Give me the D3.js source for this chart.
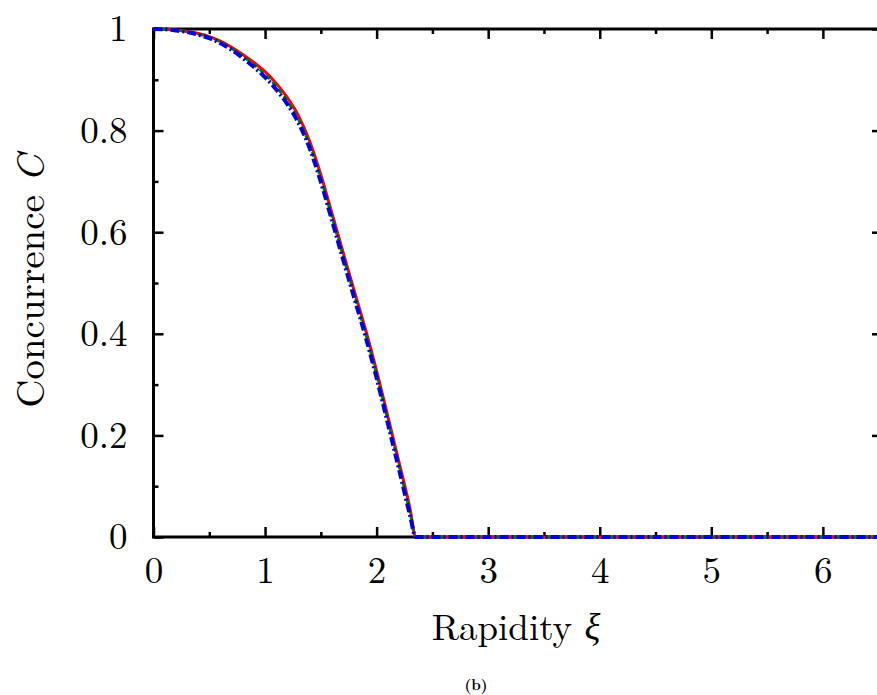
<!DOCTYPE html>
<html><head><meta charset="utf-8">
<script src="https://cdn.jsdelivr.net/npm/d3@7"></script>
<style>body{margin:0;background:#fff}svg{display:block}</style>
</head><body>
<svg id="c" width="877" height="695"></svg>
<script>
const xi = [0,0.1,0.2,0.3,0.4,0.5,0.6,0.7,0.8,0.9,1.0,1.1,1.2,1.3,1.4,1.5,1.6,1.7,1.8,1.9,2.0,2.1,2.2,2.3,2.35,6.53];
const cRed   = [1,.9995,.998,.995,.991,.985,.976,.964,.950,.934,.916,.893,.865,.829,.779,.713,.637,.560,.484,.409,.327,.238,.148,.055,0,0];
const cGreen = [1,.9995,.998,.995,.990,.984,.975,.962,.947,.930,.911,.887,.858,.822,.772,.706,.630,.553,.477,.402,.320,.231,.141,.048,0,0];
const cBlue  = [1,.9995,.997,.994,.989,.982,.972,.959,.943,.925,.905,.881,.852,.815,.765,.699,.623,.546,.470,.395,.313,.224,.134,.042,0,0];
const xTicks = [0,1,2,3,4,5,6];
const xMinor = [0.5,1.5,2.5,3.5,4.5,5.5,6.5];
const yTicks = [0,0.2,0.4,0.6,0.8,1];
const yMinor = [0.1,0.3,0.5,0.7,0.9];
const xTitle = "Rapidity ";
const yTitle = "Concurrence ";
const caption = "(b)";

const FF = '"Latin Modern Roman","CMU Serif","Liberation Serif",serif';
const svg = d3.select("#c");
const L=153.5, R=882, T=29, B=537;
const x = d3.scaleLinear().domain([0,6.53]).range([L,R]);
const y = d3.scaleLinear().domain([0,1]).range([B,T]);

function tickGroup(axis, tr){
  const g = svg.append("g").attr("transform",tr).call(axis);
  g.select(".domain").remove();
  g.selectAll(".tick line").attr("stroke","#000").attr("stroke-width",2.5);
  return g;
}
const gb = tickGroup(d3.axisBottom(x).tickValues(xTicks).tickSize(-10).tickPadding(20).tickFormat(d3.format("d")), `translate(0,${B})`);
gb.selectAll("text").style("font-family",FF).style("font-size","37px").attr("fill","#000");
tickGroup(d3.axisBottom(x).tickValues(xMinor).tickSize(-5).tickFormat(""), `translate(0,${B})`);
tickGroup(d3.axisTop(x).tickValues(xTicks).tickSize(-10).tickFormat(""), `translate(0,${T})`);
tickGroup(d3.axisTop(x).tickValues(xMinor).tickSize(-5).tickFormat(""), `translate(0,${T})`);
const gl = tickGroup(d3.axisLeft(y).tickValues(yTicks).tickSize(-10).tickPadding(26).tickFormat(d=>d===0?"0":d===1?"1":d3.format(".1f")(d)), `translate(${L},0)`);
gl.selectAll("text").style("font-family",FF).style("font-size","37px").attr("fill","#000");
tickGroup(d3.axisLeft(y).tickValues(yMinor).tickSize(-5).tickFormat(""), `translate(${L},0)`);
tickGroup(d3.axisRight(y).tickValues(yTicks).tickSize(-10).tickFormat(""), `translate(${R},0)`);
tickGroup(d3.axisRight(y).tickValues(yMinor).tickSize(-5).tickFormat(""), `translate(${R},0)`);

svg.append("rect").attr("x",L).attr("y",T).attr("width",R-L).attr("height",B-T)
  .attr("fill","none").attr("stroke","#000").attr("stroke-width",3);

const line = vals => d3.line().curve(d3.curveMonotoneX).x((d,i)=>x(xi[i])).y(d=>y(d))(vals);
svg.append("path").attr("d",line(cRed)).attr("fill","none").attr("stroke","#ff0000").attr("stroke-width",3);
svg.append("path").attr("d",line(cGreen)).attr("fill","none").attr("stroke","#007700").attr("stroke-width",3).attr("stroke-dasharray","5,4");
svg.append("path").attr("d",line(cBlue)).attr("fill","none").attr("stroke","#0000dd").attr("stroke-width",4).attr("stroke-dasharray","9,3,2,3");

const xt = svg.append("text").attr("x",516).attr("y",640).attr("text-anchor","middle")
  .style("font-family",FF).style("font-size","37px").attr("fill","#000");
xt.append("tspan").text(xTitle);
xt.append("tspan").style("font-style","italic").text("ξ");
const yt = svg.append("text").attr("transform","translate(44,281) rotate(-90)").attr("text-anchor","middle")
  .style("font-family",FF).style("font-size","39px").attr("fill","#000");
yt.append("tspan").text(yTitle);
yt.append("tspan").style("font-style","italic").text("C");
svg.append("text").attr("x",476).attr("y",690).attr("text-anchor","middle")
  .style("font-family",FF).style("font-size","15px").style("font-weight","bold").attr("fill","#000").text(caption);
</script>
</body></html>
